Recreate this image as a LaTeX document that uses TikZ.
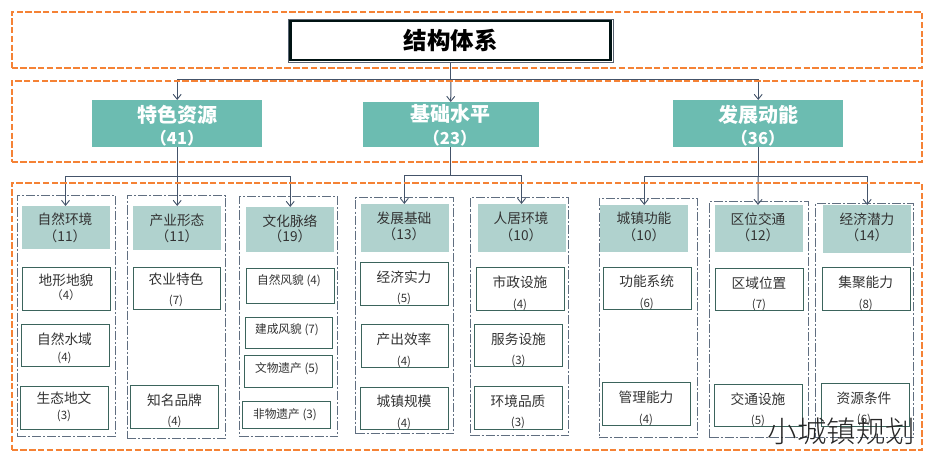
\documentclass[tikz,border=0pt]{standalone}
\usepackage{fontspec}
\setmainfont{Noto Sans CJK SC}
\newfontfamily\wmfont{Noto Sans CJK SC Light}
\usetikzlibrary{arrows.meta}
\definecolor{orangeD}{HTML}{F58235}
\definecolor{tealA}{HTML}{6CBCB1}
\definecolor{tealB}{HTML}{B0D2CE}
\definecolor{lineC}{HTML}{44546A}
\definecolor{leafE}{HTML}{2F5F56}
\definecolor{txt}{HTML}{333333}
\tikzset{x=1pt,y=-1pt,
 zone/.style={draw=orangeD,line width=2pt,dash pattern=on 6.4pt off 2.4pt},
 group/.style={draw=lineC!85,line width=1pt,dash pattern=on 9pt off 2pt on 2pt off 2pt},
 head/.style={fill=tealB,draw=none},
 main/.style={fill=tealA,draw=none},
 leafbox/.style={draw=leafE!85!gray,line width=1pt,fill=white},
 link/.style={draw=lineC,line width=1pt},
 arr/.style={link,-{Straight Barb[length=5pt,width=8pt,line width=.9pt]}},
 lab/.style={inner sep=0pt,text=txt,font=\fontsize{13.7}{15}\selectfont},
 num/.style={inner sep=0pt,text=txt,font=\fontsize{11.5}{13}\selectfont},
 small/.style={inner sep=0pt,text=txt,font=\fontsize{11.7}{13}\selectfont},
}
\newcommand{\bx}[6]{\node[#1,inner sep=0pt,minimum width={(#5-#3)*1pt},minimum height={(#6-#4)*1pt},anchor=north west] (#2) at (#3,#4) {};}
\begin{document}
\begin{tikzpicture}
\useasboundingbox (0,0) rectangle (928,457);
\fill[white] (0,0) rectangle (928,457);
% title
\node[draw=lineC!70!gray,line width=.8pt,inner sep=0pt,minimum width=325pt,minimum height=43pt,anchor=north west,font=\fontsize{23.5}{26}\selectfont\bfseries,text=black] (title) at (288,19) {结构体系};
\draw[black!85!teal,line width=2.5pt] (290.7,21.2) rectangle (610.3,59.8);
% main
\node[main,inner sep=0pt,minimum width=170pt,minimum height=47pt,anchor=north west] (m1) at (92,100) {};
\node[main,inner sep=0pt,minimum width=176pt,minimum height=45pt,anchor=north west] (m2) at (362.5,102) {};
\node[main,inner sep=0pt,minimum width=170pt,minimum height=47pt,anchor=north west] (m3) at (673,100) {};
\foreach \x/\ya/\yb/\a/\b in {177/115/138/特色资源/（41）,450/114/138/基础水平/（23）,758/115/138/发展动能/（36）}{
 \node[inner sep=0pt,text=white,font=\fontsize{20}{22}\selectfont\bfseries] at (\x,\ya) {\a};
 \node[inner sep=0pt,text=white,font=\fontsize{16.5}{19}\selectfont\bfseries] at (\x,\yb) {\b};
}
% groups
\bx{group}{g1}{16.5}{195}{115}{436}
\bx{group}{g2}{126.5}{195}{225}{438}
\bx{group}{g3}{239}{196}{337}{436}
\bx{group}{g4}{355}{197}{453}{433}
\bx{group}{g5}{470}{197}{568}{435}
\bx{group}{g6}{598.5}{198}{697}{437}
\bx{group}{g7}{709}{201}{807.5}{437}
\bx{group}{g8}{814.7}{203}{913}{437}
% heads
\bx{head}{h1}{22}{206}{110}{249}
\bx{head}{h2}{133}{206}{221}{250}
\bx{head}{h3}{246}{207}{334}{252}
\bx{head}{h4}{361}{204}{449}{252}
\bx{head}{h5}{478}{204}{566}{252}
\bx{head}{h6}{600}{205}{688}{252}
\bx{head}{h7}{715}{205}{803}{252}
\bx{head}{h8}{823}{205}{911}{253}
\foreach \x/\ya/\yb/\a/\b in {65/219/236/自然环境/（11）,177/220/236.5/产业形态/（11）,290/221/236.5/文化脉络/（19）,404/218.5/234.5/发展基础/（13）,521/218/235/人居环境/（10）,644/218/235/城镇功能/（10）,758/219/235/区位交通/（12）,867/219/235/经济潜力/（14）}{
 \node[lab] at (\x,\ya) {\a};
 \node[lab] at (\x,\yb) {\b};
}
% leaves
\foreach \n/\xa/\ya/\xb/\yb in {l11/22.5/267.5/110.5/310,l12/21/324/109/366.5,l13/20/386/108/429,
 l21/133/267/220.5/309.5,l22/130.5/385.5/218.5/428.5,
 l31/246.5/268/334/303.5,l32/245/317/332.5/348,l33/244.5/355/332.5/387,l34/242.5/401.5/330.5/428,
 l41/360.5/262/448/305,l42/361/324.5/448.5/367,l43/360.5/387/448/429,
 l51/476.5/267.5/564.5/310,l52/474.5/324/562.5/366.5,l53/474/386/562/429,
 l61/603.5/267/691.5/309.5,l62/602/382.5/690/425.5,
 l71/715.5/268/803.5/310.5,l72/714/384/802/426.5,
 l81/822.5/267.5/910.5/310,l82/821/383/909/426}{
 \draw[leafbox] (\xa,\ya) rectangle (\xb,\yb) node[pos=.5,inner sep=0pt] (\n) {};
}
\foreach \x/\ya/\yb/\a/\b in {66/280.7/295.5/地形地貌/（4）,64.5/339/357.5/自然水域/(4),64/398.5/416/生态地文/(3),
 176/279.5/300.5/农业特色/(7),174.5/400/422/知名品牌/(4),
 404/277.5/298.5/经济实力/(5),404/339/361.5/产出效率/(4),404/401/424/城镇规模/(4),
 520/282/305/市政设施/(4),518.5/339/360.5/服务设施/(3),518/401/423/环境品质/(3),
 646.7/281/303.5/功能系统/(6),646/397.5/419.5/管理能力/(4),
 759/283/304.5/区域位置/(7),758/399/420.5/交通设施/(5),
 865.7/282/304.5/集聚能力/(8),864/398/420/资源条件/(6)}{
 \node[lab] at (\x,\ya) {\a};
 \node[num] at (\x,\yb) {\b};
}
\foreach \x/\y/\a in {289/281/自然风貌 (4),287/330/建成风貌 (7),287/369/文物遗产 (5),285/415/非物遗产 (3)}{
 \node[small] at (\x,\y) {\a};
}
% connectors
\coordinate (j1) at (title.south |- 0,80);
\coordinate (e1) at (65.5,206);
\coordinate (e4) at (404.3,204);
\coordinate (e5) at (521.5,204);
\coordinate (e7) at (758,205);
\draw[link] (title.south) -- (j1);
\draw[arr] (j1) -| (m1.north);
\draw[arr] (j1) -- (m2.north);
\draw[arr] (j1) -| (m3.north);
\coordinate (j2) at (m1.south |- 0,177);
\draw[link] (m1.south) -- (j2);
\draw[arr] (j2) -| (e1);
\draw[arr] (j2) -- (h2.north);
\draw[arr] (j2) -| (h3.north);
\coordinate (j3) at (m2.south |- 0,175.5);
\draw[link] (m2.south) -- (j3);
\draw[arr] (j3) -| (e4);
\draw[arr] (j3) -| (e5);
\coordinate (j4) at (m3.south |- 0,176.5);
\draw[link] (m3.south) -- (j4);
\draw[arr] (j4) -| (h6.north);
\draw[arr] (j4) -- (e7);
\draw[arr] (j4) -| (h8.north);
% zones
\bx{zone}{z1}{10.5}{11}{921}{67}
\bx{zone}{z2}{10.5}{80}{921}{161}
\bx{zone}{z3}{10.5}{182}{921}{449}
% watermark
\node[inner sep=0pt,text=black!85,font=\wmfont\fontsize{29.5}{32}\selectfont] (wm) at (841.5,431) {小城镇规划};
\end{tikzpicture}
\end{document}
